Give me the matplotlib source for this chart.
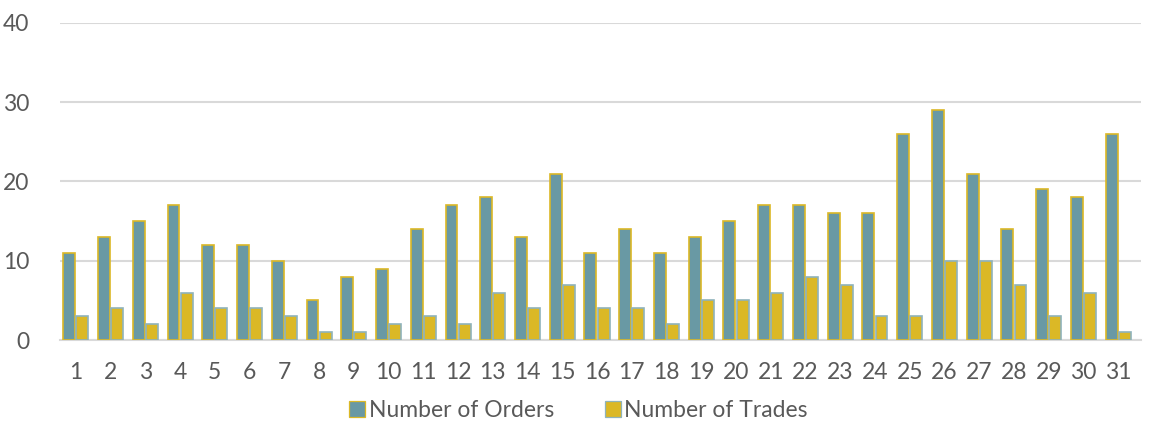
import numpy as np
import matplotlib.pyplot as plt

plt.rcParams['font.family'] = ['Lato', 'DejaVu Sans']

days = [str(d) for d in range(1, 32)]
orders = [11, 13, 15, 17, 12, 12, 10, 5, 8, 9, 14, 17, 18, 13, 21, 11,
          14, 11, 13, 15, 17, 17, 16, 16, 26, 29, 21, 14, 19, 18, 26]
trades = [3, 4, 2, 6, 4, 4, 3, 1, 1, 2, 3, 2, 6, 4, 7, 4,
          4, 2, 5, 5, 6, 8, 7, 3, 3, 10, 10, 7, 3, 6, 1]

teal = '#6999A4'
gold = '#DBB826'
text_col = '#595959'

fig = plt.figure(figsize=(11.57, 4.22), dpi=100)
ax = fig.add_axes([0.052, 0.194, 0.934, 0.752])

x = np.arange(len(days))
w = 0.34
ax.bar(x - 0.19, orders, w, color=teal, edgecolor=gold, linewidth=1.2,
       label='Number of Orders', zorder=3)
ax.bar(x + 0.19, trades, w, color=gold, edgecolor='#8FB3BB', linewidth=1.2,
       label='Number of Trades', zorder=3)

ax.set_xlim(-0.45, len(days) - 0.35)
ax.set_ylim(0, 40)
ax.set_yticks([0, 10, 20, 30, 40])
ax.set_xticks(x)
ax.set_xticklabels(days)
ax.grid(axis='y', color='#D9D9D9', linewidth=1.5, zorder=0)
for s in ['top', 'right', 'left']:
    ax.spines[s].set_visible(False)
ax.spines['bottom'].set_color('#D9D9D9')
ax.spines['bottom'].set_linewidth(1.5)
ax.tick_params(length=0, labelsize=16.5, colors=text_col)
ax.tick_params(axis='x', pad=16)
ax.tick_params(axis='y', pad=22)

leg = ax.legend(loc='center', bbox_to_anchor=(0.5, 0.028), bbox_transform=fig.transFigure,
                ncol=2, frameon=False, fontsize=16.5, labelcolor=text_col,
                handlelength=0.7, handleheight=0.7, handletextpad=0.15,
                columnspacing=2.2, borderpad=0)
for h in leg.legend_handles:
    h.set_linewidth(0.9)

fig.savefig('out.png', dpi=100)
